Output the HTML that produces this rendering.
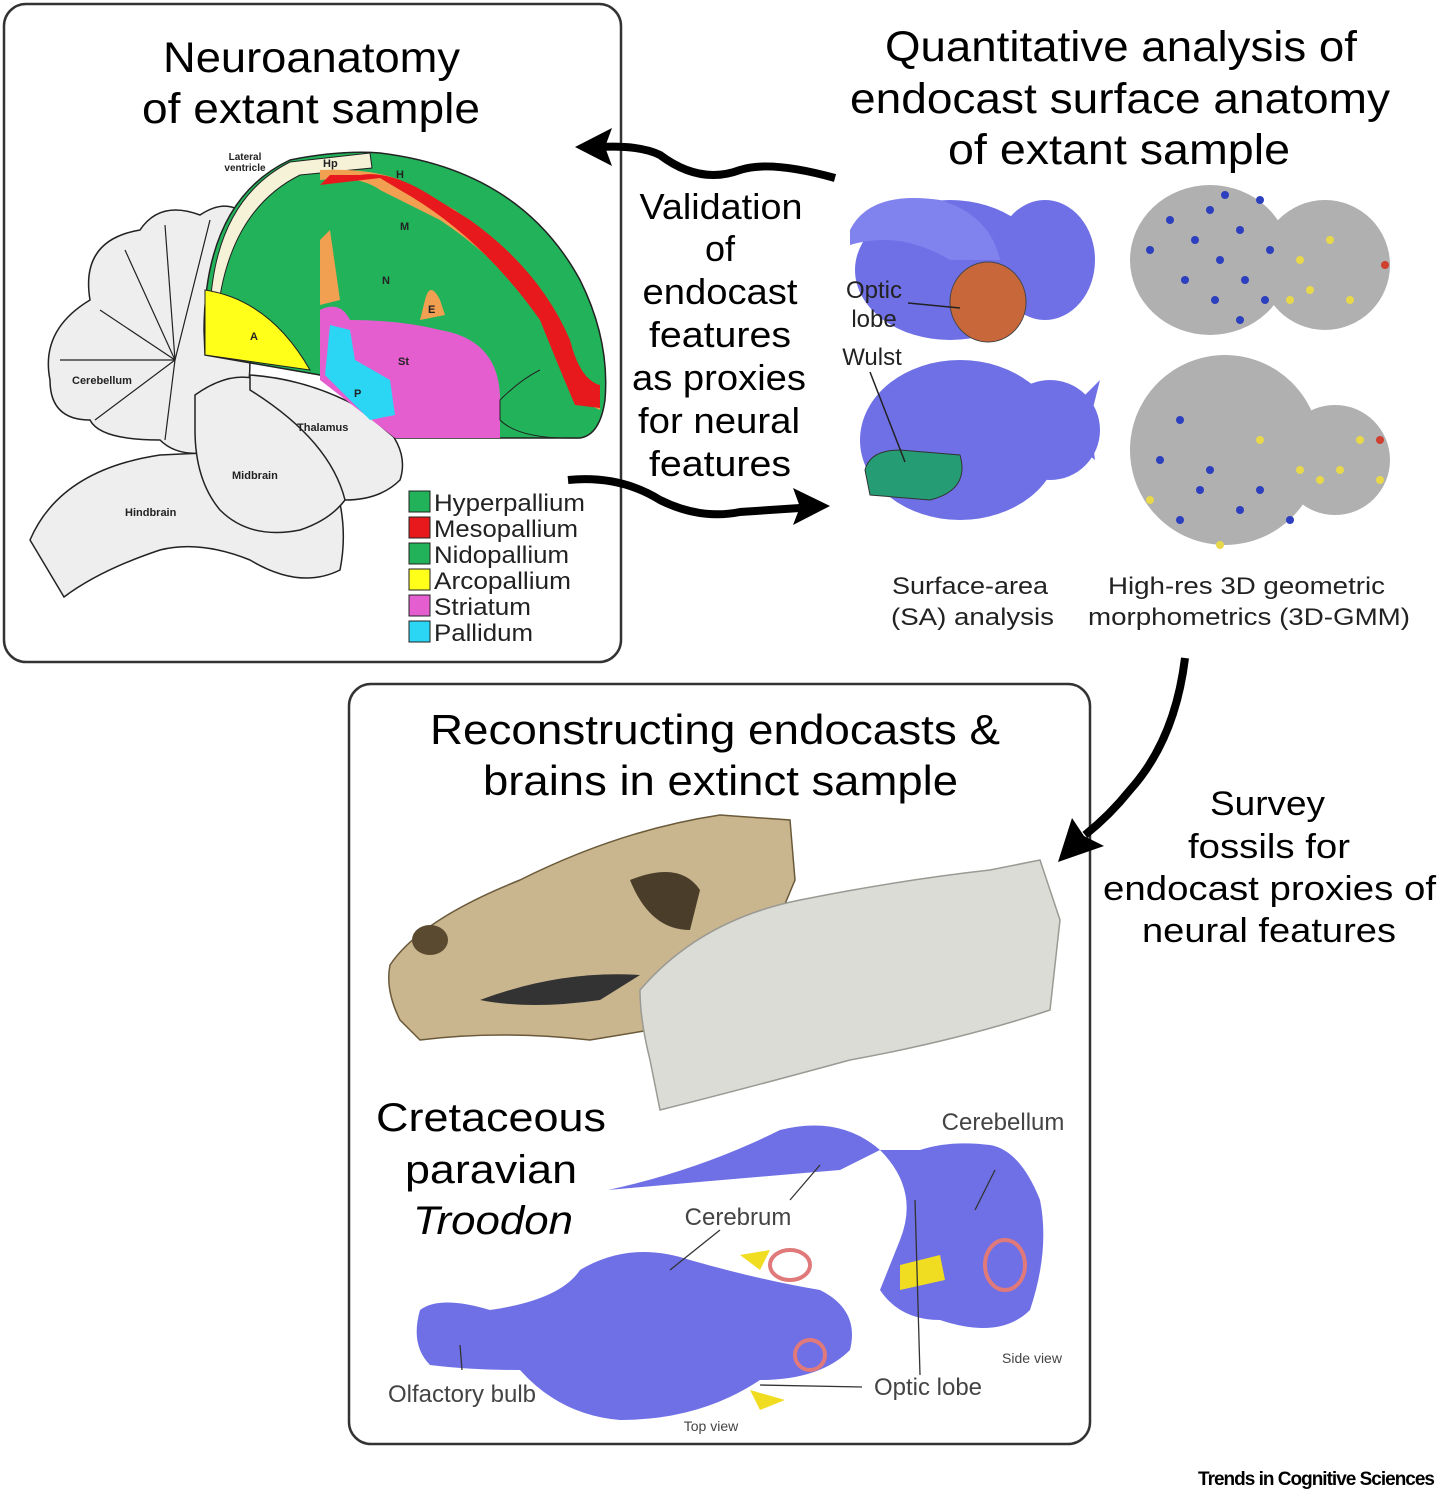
<!DOCTYPE html>
<html><head><meta charset="utf-8"><style>
html,body{margin:0;padding:0;background:#fff}
svg{display:block}
text{font-family:"Liberation Sans",sans-serif}
</style></head><body>
<svg width="1439" height="1494" viewBox="0 0 1439 1494" xmlns="http://www.w3.org/2000/svg">
<rect width="1439" height="1494" fill="#fff"/>
<!-- Box 1 -->
<rect x="4" y="4" width="617" height="658" rx="22" fill="#fff" stroke="#333" stroke-width="2.5"/>
<text x="163" y="72" font-size="43" textLength="297" lengthAdjust="spacingAndGlyphs">Neuroanatomy</text>
<text x="142" y="123" font-size="43" textLength="338" lengthAdjust="spacingAndGlyphs">of extant sample</text>

<g stroke="#222" stroke-width="1.5" fill="#eeeeee">
<path d="M64 597 L30 540 Q60 470 160 455 L270 450 L330 470 Q350 520 340 570 Q300 590 250 560 Q200 540 160 550 Q100 570 64 597Z"/>
<path d="M50 380 Q40 330 90 300 Q80 240 140 230 Q160 200 200 215 Q230 195 250 220 L250 360 Q250 420 220 450 Q180 460 160 440 Q100 440 90 420 Q50 420 50 380Z"/>
<path d="M195 395 Q230 370 260 380 Q330 400 350 440 Q360 470 345 500 Q330 520 300 530 Q250 540 220 510 Q195 480 195 430Z"/>
<path d="M250 375 Q320 380 380 420 Q410 450 400 480 Q380 500 345 500 Q330 440 250 390Z"/>
</g>
<g stroke="#222" stroke-width="1.2" fill="none">
<line x1="175" y1="360" x2="100" y2="310"/><line x1="175" y1="360" x2="125" y2="250"/>
<line x1="175" y1="360" x2="165" y2="225"/><line x1="175" y1="360" x2="210" y2="220"/>
<line x1="175" y1="360" x2="60" y2="360"/><line x1="175" y1="360" x2="95" y2="420"/>
<line x1="175" y1="360" x2="165" y2="440"/>
</g>
<path d="M204 330 Q205 200 290 160 Q340 150 380 153 Q520 170 580 280 Q610 340 605 400 Q600 435 580 438 L395 438 L320 375 L205 355Z" fill="#22b35a" stroke="#222" stroke-width="1.5"/>
<path d="M210 310 Q215 200 290 162 L370 153 L372 168 L300 175 Q230 210 218 310Z" fill="#f5f2d8" stroke="#222" stroke-width="1"/>
<path d="M320 180 Q360 175 380 190 L440 220 Q530 280 560 360 Q575 400 600 410 L600 395 Q575 390 565 340 Q530 270 455 210 L400 180 Q370 168 320 170Z" fill="#f0a050"/>
<path d="M320 185 L380 178 L400 190 Q480 235 540 320 Q560 370 575 405 L600 408 L600 385 Q580 380 570 340 Q540 270 470 220 L430 195 Q390 170 360 175 L330 175Z" fill="#e8191c"/>
<path d="M205 290 Q270 300 310 370 L205 355Z" fill="#ffff1a" stroke="#222"/>
<path d="M320 310 Q340 300 350 320 Q400 320 440 330 Q500 340 500 400 L500 438 L395 438 L320 380Z" fill="#e55ed0"/>
<path d="M330 325 L350 330 L355 360 L390 380 L395 415 L370 420 L325 375Z" fill="#2ad6f3"/>
<path d="M320 240 L330 230 L340 300 L320 305Z" fill="#f0a050"/>
<path d="M425 300 Q430 280 440 300 L445 315 L420 320Z" fill="#f0a050"/>
<path d="M580 438 Q520 440 500 420 L500 400 Q520 380 540 370" fill="none" stroke="#222"/>
<g font-size="11" font-weight="bold" fill="#222">
<text x="245" y="160" text-anchor="middle" font-size="10">Lateral</text>
<text x="245" y="171" text-anchor="middle" font-size="10">ventricle</text>
<text x="323" y="167">Hp</text><text x="396" y="178">H</text><text x="400" y="230">M</text>
<text x="382" y="284">N</text><text x="250" y="340">A</text><text x="398" y="365">St</text>
<text x="354" y="397">P</text><text x="428" y="313">E</text>
<text x="72" y="384" font-size="11">Cerebellum</text>
<text x="297" y="431">Thalamus</text><text x="232" y="479">Midbrain</text>
<text x="125" y="516">Hindbrain</text>
</g>
<g stroke="#222" stroke-width="1">
<rect x="409" y="491" width="21" height="21" fill="#22b35a"/>
<rect x="409" y="517" width="21" height="21" fill="#e8191c"/>
<rect x="409" y="543" width="21" height="21" fill="#22b35a"/>
<rect x="409" y="569" width="21" height="21" fill="#ffff1a"/>
<rect x="409" y="595" width="21" height="21" fill="#e55ed0"/>
<rect x="409" y="621" width="21" height="21" fill="#2ad6f3"/>
</g>
<g font-size="24" fill="#222">
<text x="434" y="511" textLength="151" lengthAdjust="spacingAndGlyphs">Hyperpallium</text><text x="434" y="537" textLength="144" lengthAdjust="spacingAndGlyphs">Mesopallium</text>
<text x="434" y="563" textLength="135" lengthAdjust="spacingAndGlyphs">Nidopallium</text><text x="434" y="589" textLength="137" lengthAdjust="spacingAndGlyphs">Arcopallium</text>
<text x="434" y="615" textLength="97" lengthAdjust="spacingAndGlyphs">Striatum</text><text x="434" y="641" textLength="99" lengthAdjust="spacingAndGlyphs">Pallidum</text>
</g>

<g font-size="43">
<text x="885" y="61" textLength="472" lengthAdjust="spacingAndGlyphs">Quantitative analysis of</text>
<text x="850" y="113" textLength="540" lengthAdjust="spacingAndGlyphs">endocast surface anatomy</text>
<text x="948" y="164" textLength="342" lengthAdjust="spacingAndGlyphs">of extant sample</text>
</g>
<g font-size="36" text-anchor="middle">
<text x="721" y="219" textLength="163" lengthAdjust="spacingAndGlyphs">Validation</text><text x="720" y="261">of</text>
<text x="720" y="304" textLength="155" lengthAdjust="spacingAndGlyphs">endocast</text><text x="720" y="347" textLength="142" lengthAdjust="spacingAndGlyphs">features</text>
<text x="719" y="390" textLength="174" lengthAdjust="spacingAndGlyphs">as proxies</text><text x="719" y="433" textLength="162" lengthAdjust="spacingAndGlyphs">for neural</text>
<text x="720" y="476" textLength="142" lengthAdjust="spacingAndGlyphs">features</text>
</g>
<path d="M835 178 Q770 160 740 170 Q700 185 660 155 Q640 145 600 147" fill="none" stroke="#000" stroke-width="8"/>
<path d="M575 147 L612 128 L605 147 L612 166Z" fill="#000"/>
<path d="M568 480 Q620 475 660 500 Q700 520 740 512 L800 508" fill="none" stroke="#000" stroke-width="8"/>
<path d="M830 506 L793 488 L800 507 L793 525Z" fill="#000"/>

<g fill="#6f70e6">
<ellipse cx="950" cy="270" rx="95" ry="70"/>
<ellipse cx="1045" cy="260" rx="50" ry="60"/>
<path d="M850 230 Q870 190 940 200 Q990 215 1000 260 L950 260 Q900 230 850 245Z" fill="#8082ee"/>
<ellipse cx="960" cy="440" rx="100" ry="80"/>
<ellipse cx="1050" cy="430" rx="50" ry="50"/>
<path d="M1080 400 L1100 380 L1090 420 L1095 460 L1070 440Z"/>
</g>
<ellipse cx="988" cy="302" rx="38" ry="40" fill="#c8683a" stroke="#444"/>
<path d="M865 470 Q870 450 900 450 L960 455 Q970 490 930 500 L870 495Z" fill="#259c73" stroke="#333"/>
<line x1="908" y1="303" x2="960" y2="308" stroke="#222" stroke-width="1.5"/>
<line x1="870" y1="372" x2="905" y2="462" stroke="#222" stroke-width="1.5"/>
<g font-size="24" fill="#222">
<text x="874" y="298" text-anchor="middle">Optic</text><text x="874" y="327" text-anchor="middle">lobe</text>
<text x="872" y="365" text-anchor="middle">Wulst</text>
<text x="892" y="594" textLength="156" lengthAdjust="spacingAndGlyphs">Surface-area</text><text x="891" y="625" textLength="163" lengthAdjust="spacingAndGlyphs">(SA) analysis</text>
<text x="1108" y="594" textLength="277" lengthAdjust="spacingAndGlyphs">High-res 3D geometric</text>
<text x="1088" y="625" textLength="322" lengthAdjust="spacingAndGlyphs">morphometrics (3D-GMM)</text>
</g>
<g fill="#b0b0b0">
<ellipse cx="1210" cy="260" rx="80" ry="75"/>
<ellipse cx="1325" cy="265" rx="65" ry="65"/>
<ellipse cx="1225" cy="450" rx="95" ry="95"/>
<ellipse cx="1335" cy="460" rx="55" ry="55"/>
</g>
<g fill="#2b3fbf">
<circle cx="1170" cy="220" r="4"/><circle cx="1195" cy="240" r="4"/><circle cx="1220" cy="260" r="4"/>
<circle cx="1245" cy="280" r="4"/><circle cx="1265" cy="300" r="4"/><circle cx="1210" cy="210" r="4"/>
<circle cx="1240" cy="230" r="4"/><circle cx="1270" cy="250" r="4"/><circle cx="1160" cy="460" r="4"/>
<circle cx="1200" cy="490" r="4"/><circle cx="1240" cy="510" r="4"/><circle cx="1180" cy="420" r="4"/>
<circle cx="1185" cy="280" r="4"/><circle cx="1215" cy="300" r="4"/><circle cx="1240" cy="320" r="4"/>
<circle cx="1225" cy="195" r="4"/><circle cx="1260" cy="200" r="4"/><circle cx="1150" cy="250" r="4"/>
<circle cx="1210" cy="470" r="4"/><circle cx="1260" cy="490" r="4"/><circle cx="1290" cy="520" r="4"/>
<circle cx="1180" cy="520" r="4"/>
</g>
<g fill="#e8d84a">
<circle cx="1300" cy="260" r="4"/><circle cx="1330" cy="240" r="4"/><circle cx="1350" cy="300" r="4"/>
<circle cx="1260" cy="440" r="4"/><circle cx="1300" cy="470" r="4"/><circle cx="1360" cy="440" r="4"/>
<circle cx="1150" cy="500" r="4"/><circle cx="1220" cy="545" r="4"/>
<circle cx="1290" cy="300" r="4"/><circle cx="1310" cy="290" r="4"/><circle cx="1320" cy="480" r="4"/>
<circle cx="1340" cy="470" r="4"/><circle cx="1380" cy="480" r="4"/>
</g>
<g fill="#d04030"><circle cx="1385" cy="265" r="4"/><circle cx="1380" cy="440" r="4"/></g>

<text x="1210" y="815" font-size="34" textLength="115" lengthAdjust="spacingAndGlyphs">Survey</text>
<text x="1188" y="858" font-size="34" textLength="162" lengthAdjust="spacingAndGlyphs">fossils for</text>
<text x="1103" y="900" font-size="34" textLength="333" lengthAdjust="spacingAndGlyphs">endocast proxies of</text>
<text x="1142" y="942" font-size="34" textLength="254" lengthAdjust="spacingAndGlyphs">neural features</text>

<!-- Box 2 -->
<rect x="349" y="684" width="741" height="760" rx="22" fill="#fff" stroke="#333" stroke-width="2.5"/>
<text x="430" y="744" font-size="42" textLength="570" lengthAdjust="spacingAndGlyphs">Reconstructing endocasts &amp;</text>
<text x="483" y="795" font-size="42" textLength="475" lengthAdjust="spacingAndGlyphs">brains in extinct sample</text>
<path d="M390 965 Q420 920 520 880 Q620 830 720 815 L790 820 L795 880 L770 940 Q700 1000 650 1030 L590 1040 Q500 1030 420 1040 L400 1020 Q385 990 390 965Z" fill="#c9b58e" stroke="#6a5a3a" stroke-width="1.5"/>
<path d="M640 990 Q700 920 800 900 Q900 880 990 870 L1040 860 L1060 920 L1050 1010 Q960 1040 850 1060 Q740 1090 660 1110 L650 1060 Q640 1020 640 990Z" fill="#dcdcd6" stroke="#9a9a94" stroke-width="1.5"/>
<path d="M480 1000 Q560 970 640 975 L600 1000 Q530 1010 480 1000Z" fill="#333"/>
<ellipse cx="430" cy="940" rx="18" ry="15" fill="#5a4a30"/>
<path d="M630 880 Q680 860 700 890 L690 930 Q650 930 630 880Z" fill="#4a3e2a"/>
<text x="376" y="1131" font-size="40" textLength="230" lengthAdjust="spacingAndGlyphs">Cretaceous</text>
<text x="405" y="1183" font-size="40" textLength="172" lengthAdjust="spacingAndGlyphs">paravian</text>
<text x="413" y="1234" font-size="40" font-style="italic" textLength="160" lengthAdjust="spacingAndGlyphs">Troodon</text>
<g fill="#6f70e6">
<path d="M608 1190 Q700 1170 780 1130 Q840 1115 880 1150 Q920 1190 900 1240 L880 1290 Q900 1320 940 1320 Q1000 1340 1030 1310 Q1050 1250 1040 1200 Q1020 1150 990 1145 Q950 1140 920 1150 L880 1150 L840 1170 Q720 1180 608 1190Z"/>
<path d="M420 1310 Q440 1295 490 1310 Q560 1300 580 1270 Q630 1240 690 1260 Q760 1280 820 1290 Q860 1310 850 1350 Q820 1380 760 1380 Q700 1420 620 1420 Q560 1415 520 1370 Q470 1370 430 1365 Q410 1345 420 1310Z"/>
</g>
<g fill="#f0dc20"><path d="M740 1255 L770 1250 L760 1270Z"/><path d="M900 1265 L940 1255 L945 1280 L900 1290Z"/><path d="M750 1390 L785 1400 L760 1410Z"/></g>
<g fill="none" stroke="#e07a7a" stroke-width="4"><ellipse cx="790" cy="1265" rx="20" ry="15"/><ellipse cx="810" cy="1355" rx="15" ry="15"/><ellipse cx="1005" cy="1265" rx="20" ry="25"/></g>
<g stroke="#333" stroke-width="1.3" fill="none">
<line x1="720" y1="1230" x2="670" y2="1270"/><line x1="790" y1="1200" x2="820" y2="1165"/>
<line x1="462" y1="1370" x2="460" y2="1345"/><line x1="760" y1="1385" x2="862" y2="1387"/>
<line x1="920" y1="1375" x2="915" y2="1200"/><line x1="975" y1="1210" x2="995" y2="1170"/>
</g>
<g fill="#444" text-anchor="middle">
<text x="1003" y="1130" font-size="24">Cerebellum</text>
<text x="738" y="1225" font-size="24">Cerebrum</text>
<text x="462" y="1402" font-size="24">Olfactory bulb</text>
<text x="928" y="1395" font-size="24">Optic lobe</text>
<text x="1032" y="1363" font-size="14">Side view</text>
<text x="711" y="1431" font-size="14">Top view</text>
</g>
<!-- survey arrow drawn on top -->
<path d="M1185 658 Q1175 740 1130 790 Q1110 815 1085 835" fill="none" stroke="#000" stroke-width="8"/>
<path d="M1058 862 L1072 818 L1084 836 L1104 846Z" fill="#000"/>
<text x="1434" y="1485" font-size="19" font-weight="bold" text-anchor="end" letter-spacing="-1">Trends in Cognitive Sciences</text>
</svg>
</body></html>
